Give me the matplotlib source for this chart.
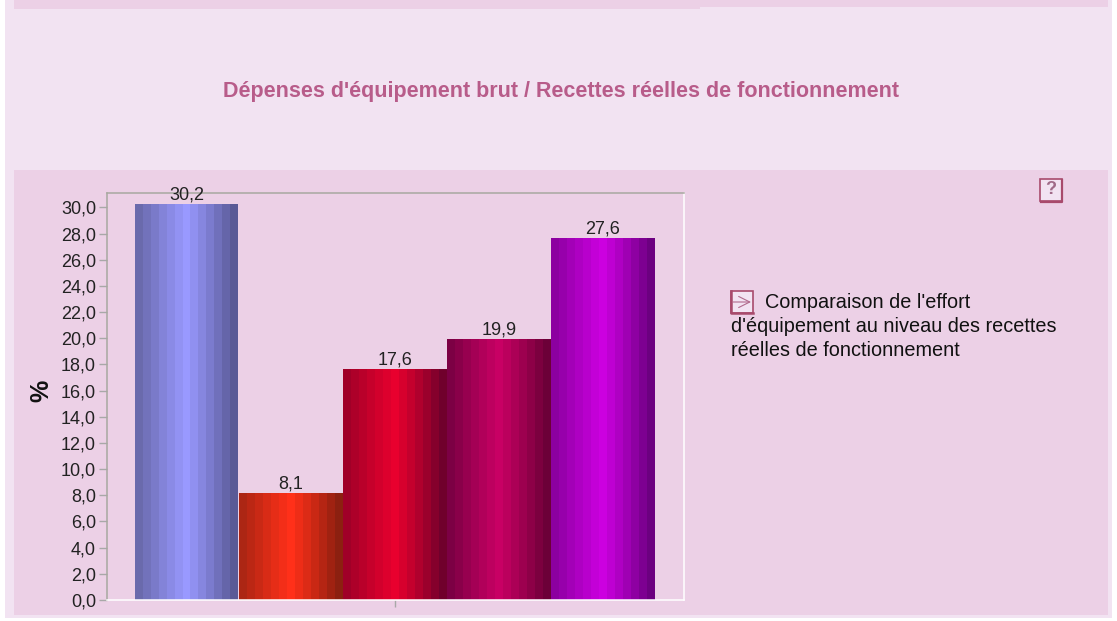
import numpy as np
import matplotlib
matplotlib.use("Agg")
import matplotlib.pyplot as plt
from matplotlib.patches import Rectangle

plt.rcParams['font.family'] = ['Liberation Sans', 'DejaVu Sans']

W, H = 1117, 621

title = "Dépenses d'équipement brut / Recettes réelles de fonctionnement"
note = ["Comparaison de l'effort", "d'équipement au niveau des recettes", "réelles de fonctionnement"]

values = [30.2, 8.1, 17.6, 19.9, 27.6]
value_labels = ["30,2", "8,1", "17,6", "19,9", "27,6"]
y_ticks = [0, 2, 4, 6, 8, 10, 12, 14, 16, 18, 20, 22, 24, 26, 28, 30]
y_tick_labels = ["%.1f" % v for v in y_ticks]
y_tick_labels = [s.replace(".", ",") for s in y_tick_labels]

left_colors = ["#6a6aac", "#ac2614", "#a00028", "#7c0044", "#8c00a0"]
centre_colors = ["#9999ff", "#ff3019", "#e8002e", "#c80064", "#cc00e0"]
right_colors = ["#5a5a96", "#8c2010", "#70002c", "#6c0038", "#6c0080"]

panel = "#f2e3f2"
inner = "#ecd0e6"
rose = "#b85c8a"
icon = "#a84a6c"

fig = plt.figure(figsize=(W / 100, H / 100), dpi=100, facecolor="white")

# background boxes, in pixel coords
bg = fig.add_axes([0, 0, 1, 1])
bg.set_xlim(0, W)
bg.set_ylim(H, 0)
bg.axis("off")
bg.add_patch(Rectangle((5, 0), 1107, 618, fc=panel, ec="none"))
bg.add_patch(Rectangle((14, 0), 686, 9, fc=inner, ec="none"))
bg.add_patch(Rectangle((700, 0), 408, 7, fc=inner, ec="none"))
bg.add_patch(Rectangle((14, 170), 1094, 445, fc=inner, ec="none"))
bg.text(561, 91, title, color=rose, fontsize=15.5, fontweight="bold", ha="center", va="center")

# ? box
bg.add_patch(Rectangle((1040, 179), 21.5, 22, fc=panel, ec=icon, lw=1.2))
bg.plot([1041, 1062, 1062], [202, 202, 180], color=icon, lw=1.6)
bg.text(1050.5, 190, "?", color="#a06a88", fontsize=13, fontweight="bold", ha="center", va="center")

# arrow box
bg.add_patch(Rectangle((731, 291), 22, 22, fc=panel, ec=icon, lw=1.2))
bg.plot([731, 731, 753], [291, 313, 313], color=icon, lw=1.8)
bg.annotate("", xy=(751, 302), xytext=(733, 302),
            arrowprops=dict(arrowstyle="->", color="#b06a8c", lw=0.8, mutation_scale=20, shrinkA=0, shrinkB=0))
bg.text(765, 302.5, note[0], color="#111111", fontsize=14.3, va="center")
bg.text(731, 327, note[1], color="#111111", fontsize=14.3, va="center")
bg.text(731, 351, note[2], color="#111111", fontsize=14.3, va="center")

# plot area
left, right, top, bottom = 106.5, 684, 193, 600
ax = fig.add_axes([left / W, 1 - bottom / H, (right - left) / W, (bottom - top) / H])
ax.patch.set_alpha(0)

x = np.arange(len(values))
bars = ax.bar(x, values, width=1.0, color="none", linewidth=0)

# stepped cylinder shading, one strip per bar
t = np.linspace(-1, 1, 13)
gaps = [0.017, 0, 0, 0, 0]
for b, c0, c1, c2, gap in zip(bars, left_colors, centre_colors, right_colors, gaps):
    c0 = np.array(matplotlib.colors.to_rgb(c0))
    c1 = np.array(matplotlib.colors.to_rgb(c1))
    c2 = np.array(matplotlib.colors.to_rgb(c2))
    strip = []
    for v in t:
        end = c0 if v < 0 else c2
        strip.append(c1 + (end - c1) * abs(v) ** 1.1)
    strip = np.array(strip)[None, :, :]
    x0 = b.get_x()
    ext = [x0, x0 + b.get_width() - gap, 0, b.get_height()]
    ax.imshow(strip, extent=ext, aspect="auto", interpolation="nearest", zorder=2)
ax.set_xlim(-0.774, 4.78)
ax.set_ylim(0, 31.1)

for xi, v, lab in zip(x, values, value_labels):
    ax.text(xi, v + 0.1, lab, ha="center", va="bottom", fontsize=13, color="#222222", zorder=4, clip_on=False)

ax.set_yticks(y_ticks)
ax.set_yticklabels(y_tick_labels, fontsize=13, color="#222222")
ax.set_xticks([2])
ax.set_xticklabels([""])
ax.tick_params(axis="y", length=6, width=1, color="#a8a8a8", pad=1.5)
ax.tick_params(axis="x", length=5, width=1, color="#a8a8a8", direction="out")
ax.set_ylabel("%", fontsize=18, fontweight="bold", color="#111111")
ax.yaxis.set_label_coords(-0.092, 0.513)

ax.spines["left"].set_color("#a8a8a0")
ax.spines["top"].set_color("#a8a8a0")
ax.spines["right"].set_color("white")
ax.spines["bottom"].set_color("white")
for s in ax.spines.values():
    s.set_linewidth(1.1)

fig.savefig("out.png", dpi=100)
